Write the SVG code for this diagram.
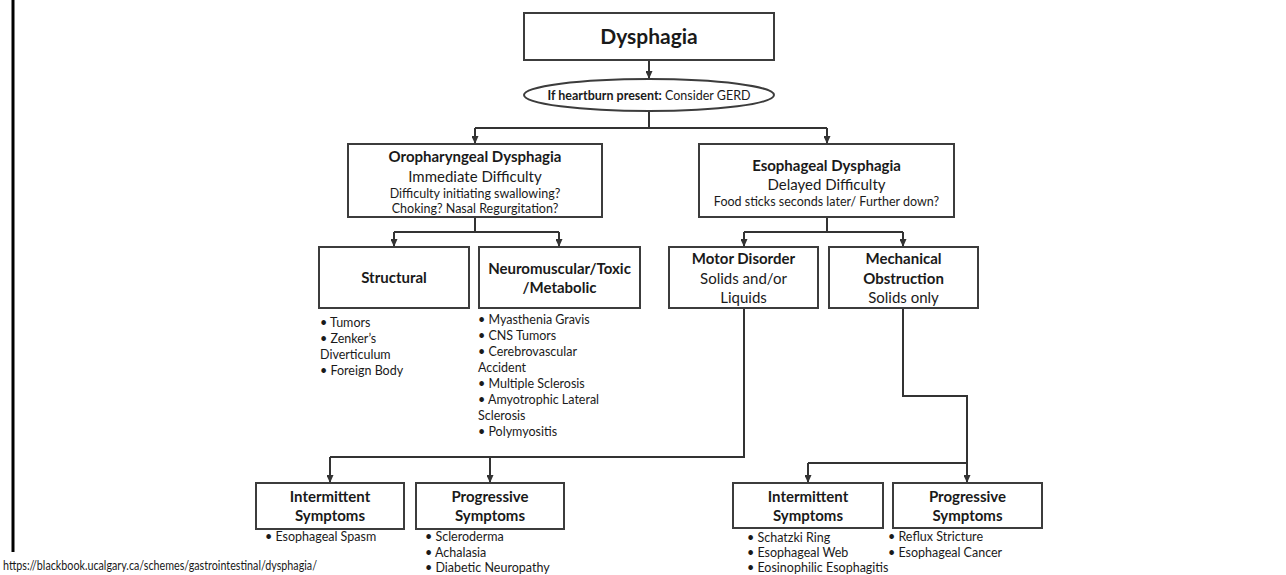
<svg xmlns="http://www.w3.org/2000/svg" width="1286" height="575" viewBox="0 0 1286 575">
<defs>
<marker id="arr" markerUnits="userSpaceOnUse" markerWidth="8" markerHeight="7" viewBox="0 0 8 7" refX="7" refY="3.5" orient="auto">
<path d="M0,0 L8,3.5 L0,7 Z" fill="#333"/>
</marker>
<style>
.box{fill:#fff;stroke:#3c3c3c;stroke-width:2}
.ln{fill:none;stroke:#333;stroke-width:2}
.ar{fill:none;stroke:#333;stroke-width:2;marker-end:url(#arr)}
text{font-family:Lato,"Open Sans","Liberation Sans",sans-serif;fill:#1a1a1a}
.c{text-anchor:middle}
.b{font-weight:bold}
.h{font-size:15px}
.s{font-size:12.5px}
.l{font-size:12.5px}
</style>
</defs>
<rect width="1286" height="575" fill="#fff"/>
<line x1="13" y1="0" x2="13" y2="552" stroke="#000" stroke-width="3"/>

<g id="connectors">
<path class="ar" d="M649,60 V78"/>
<path class="ln" d="M649,111 V128 M475,128 H827"/>
<path class="ar" d="M475,128 V143"/>
<path class="ar" d="M827,128 V143"/>
<path class="ln" d="M475,217 V232 M394,232 H559"/>
<path class="ar" d="M394,232 V246"/>
<path class="ar" d="M559,232 V246"/>
<path class="ln" d="M827,217 V232 M744,232 H903"/>
<path class="ar" d="M744,232 V246"/>
<path class="ar" d="M903,232 V246"/>
<path class="ln" d="M744,308 V457 H330"/>
<path class="ar" d="M330,457 V482"/>
<path class="ar" d="M490,457 V482"/>
<path class="ar" d="M903,308 V396 H967 V482"/>
<path class="ln" d="M808,463 H967"/>
<path class="ar" d="M808,463 V482"/>
</g>

<g id="dysphagia">
<rect class="box" x="524" y="13" width="250" height="47"/>
<text class="c b" x="649" y="44" font-size="21">Dysphagia</text>
</g>

<g id="gerd">
<ellipse cx="649" cy="95" rx="125" ry="16" fill="#fff" stroke="#3c3c3c" stroke-width="2"/>
<text class="c" x="649" y="99.5" font-size="12.5"><tspan class="b">If heartburn present:</tspan> Consider GERD</text>
</g>

<g id="oropharyngeal">
<rect class="box" x="348" y="144" width="254" height="73"/>
<text class="c b h" x="475" y="162">Oropharyngeal Dysphagia</text>
<text class="c h" x="475" y="182">Immediate Difficulty</text>
<text class="c s" x="475" y="198">Difficulty initiating swallowing?</text>
<text class="c s" x="475" y="213">Choking? Nasal Regurgitation?</text>
</g>

<g id="esophageal">
<rect class="box" x="699" y="144" width="255" height="73"/>
<text class="c b h" x="826.5" y="171">Esophageal Dysphagia</text>
<text class="c h" x="826.5" y="190">Delayed Difficulty</text>
<text class="c" x="826.5" y="206" font-size="12.5">Food sticks seconds later/ Further down?</text>
</g>

<g id="structural">
<rect class="box" x="319" y="247" width="150" height="61"/>
<text class="c b h" x="394" y="283">Structural</text>
<text class="l" x="320" y="327">• Tumors</text>
<text class="l" x="320" y="343">• Zenker’s</text>
<text class="l" x="320" y="359">Diverticulum</text>
<text class="l" x="320" y="375">• Foreign Body</text>
</g>

<g id="neuromuscular">
<rect class="box" x="479" y="247" width="161" height="61"/>
<text class="c b h" x="559.5" y="274">Neuromuscular/Toxic</text>
<text class="c b h" x="559.5" y="293">/Metabolic</text>
<text class="l" x="478" y="324">• Myasthenia Gravis</text>
<text class="l" x="478" y="340">• CNS Tumors</text>
<text class="l" x="478" y="356">• Cerebrovascular</text>
<text class="l" x="478" y="372">Accident</text>
<text class="l" x="478" y="388">• Multiple Sclerosis</text>
<text class="l" x="478" y="404">• Amyotrophic Lateral</text>
<text class="l" x="478" y="420">Sclerosis</text>
<text class="l" x="478" y="436">• Polymyositis</text>
</g>

<g id="motor">
<rect class="box" x="669" y="247" width="149" height="61"/>
<text class="c b h" x="743.5" y="264">Motor Disorder</text>
<text class="c h" x="743.5" y="284">Solids and/or</text>
<text class="c h" x="743.5" y="303">Liquids</text>
</g>

<g id="mechanical">
<rect class="box" x="829" y="247" width="149" height="61"/>
<text class="c b h" x="903.5" y="264">Mechanical</text>
<text class="c b h" x="903.5" y="284">Obstruction</text>
<text class="c h" x="903.5" y="303">Solids only</text>
</g>

<g id="motor-intermittent">
<rect class="box" x="256" y="483" width="148" height="46"/>
<text class="c b h" x="330" y="502">Intermittent</text>
<text class="c b h" x="330" y="521">Symptoms</text>
<text class="l" x="265" y="541">• Esophageal Spasm</text>
</g>

<g id="motor-progressive">
<rect class="box" x="416" y="483" width="148" height="46"/>
<text class="c b h" x="490" y="502">Progressive</text>
<text class="c b h" x="490" y="521">Symptoms</text>
<text class="l" x="425" y="541">• Scleroderma</text>
<text class="l" x="425" y="557">• Achalasia</text>
<text class="l" x="425" y="572">• Diabetic Neuropathy</text>
</g>

<g id="mech-intermittent">
<rect class="box" x="733" y="483" width="150" height="45"/>
<text class="c b h" x="808" y="502">Intermittent</text>
<text class="c b h" x="808" y="521">Symptoms</text>
<text class="l" x="747" y="542">• Schatzki Ring</text>
<text class="l" x="747" y="557">• Esophageal Web</text>
<text class="l" x="747" y="572">• Eosinophilic Esophagitis</text>
</g>

<g id="mech-progressive">
<rect class="box" x="893" y="483" width="149" height="45"/>
<text class="c b h" x="967.5" y="502">Progressive</text>
<text class="c b h" x="967.5" y="521">Symptoms</text>
<text class="l" x="888" y="541">• Reflux Stricture</text>
<text class="l" x="888" y="557">• Esophageal Cancer</text>
</g>

<g id="source">
<text x="3" y="570" font-size="13" textLength="314" lengthAdjust="spacingAndGlyphs">https://blackbook.ucalgary.ca/schemes/gastrointestinal/dysphagia/</text>
</g>
</svg>
